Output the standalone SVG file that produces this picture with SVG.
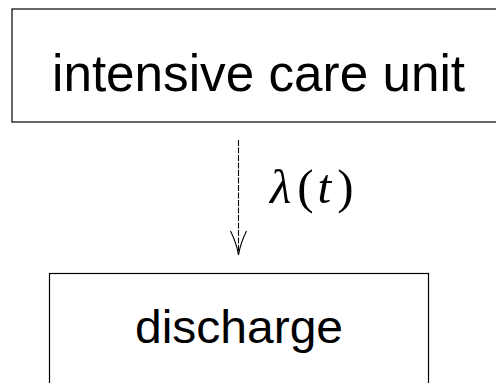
<svg xmlns="http://www.w3.org/2000/svg" width="496" height="383" viewBox="0 0 496 383">
<defs>
<style>
.box{fill:#fff;stroke:#000;stroke-width:1.2}
.lbl{font-family:"Liberation Sans","DejaVu Sans",sans-serif;fill:#000;text-anchor:middle}
.edge{fill:none;stroke:#000;stroke-width:1.1}
.math{font-family:"Liberation Serif","DejaVu Serif",serif;fill:#000}
</style>
</defs>
<rect width="496" height="383" fill="#fff"/>
<g id="icu">
<rect class="box" x="12" y="9" width="500" height="113"/>
<text class="lbl" x="258.5" y="91" font-size="52" textLength="413" lengthAdjust="spacingAndGlyphs">intensive care unit</text>
</g>
<g id="discharge">
<rect class="box" x="49.5" y="273.5" width="379" height="130"/>
<text class="lbl" x="239" y="343" font-size="46" textLength="208" lengthAdjust="spacingAndGlyphs">discharge</text>
</g>
<g id="connectors">
<line class="edge" x1="238.5" y1="140" x2="238.5" y2="255" stroke-dasharray="6,1.5"/>
<path class="edge" d="M230.5,231 Q236.5,243 238.5,255 Q240.5,243 246.5,231"/>
<text class="math" x="270" y="203" font-size="49"><tspan font-style="italic">λ</tspan><tspan dx="6">(</tspan><tspan dx="4" font-style="italic">t</tspan><tspan dx="6">)</tspan></text>
</g>
</svg>
